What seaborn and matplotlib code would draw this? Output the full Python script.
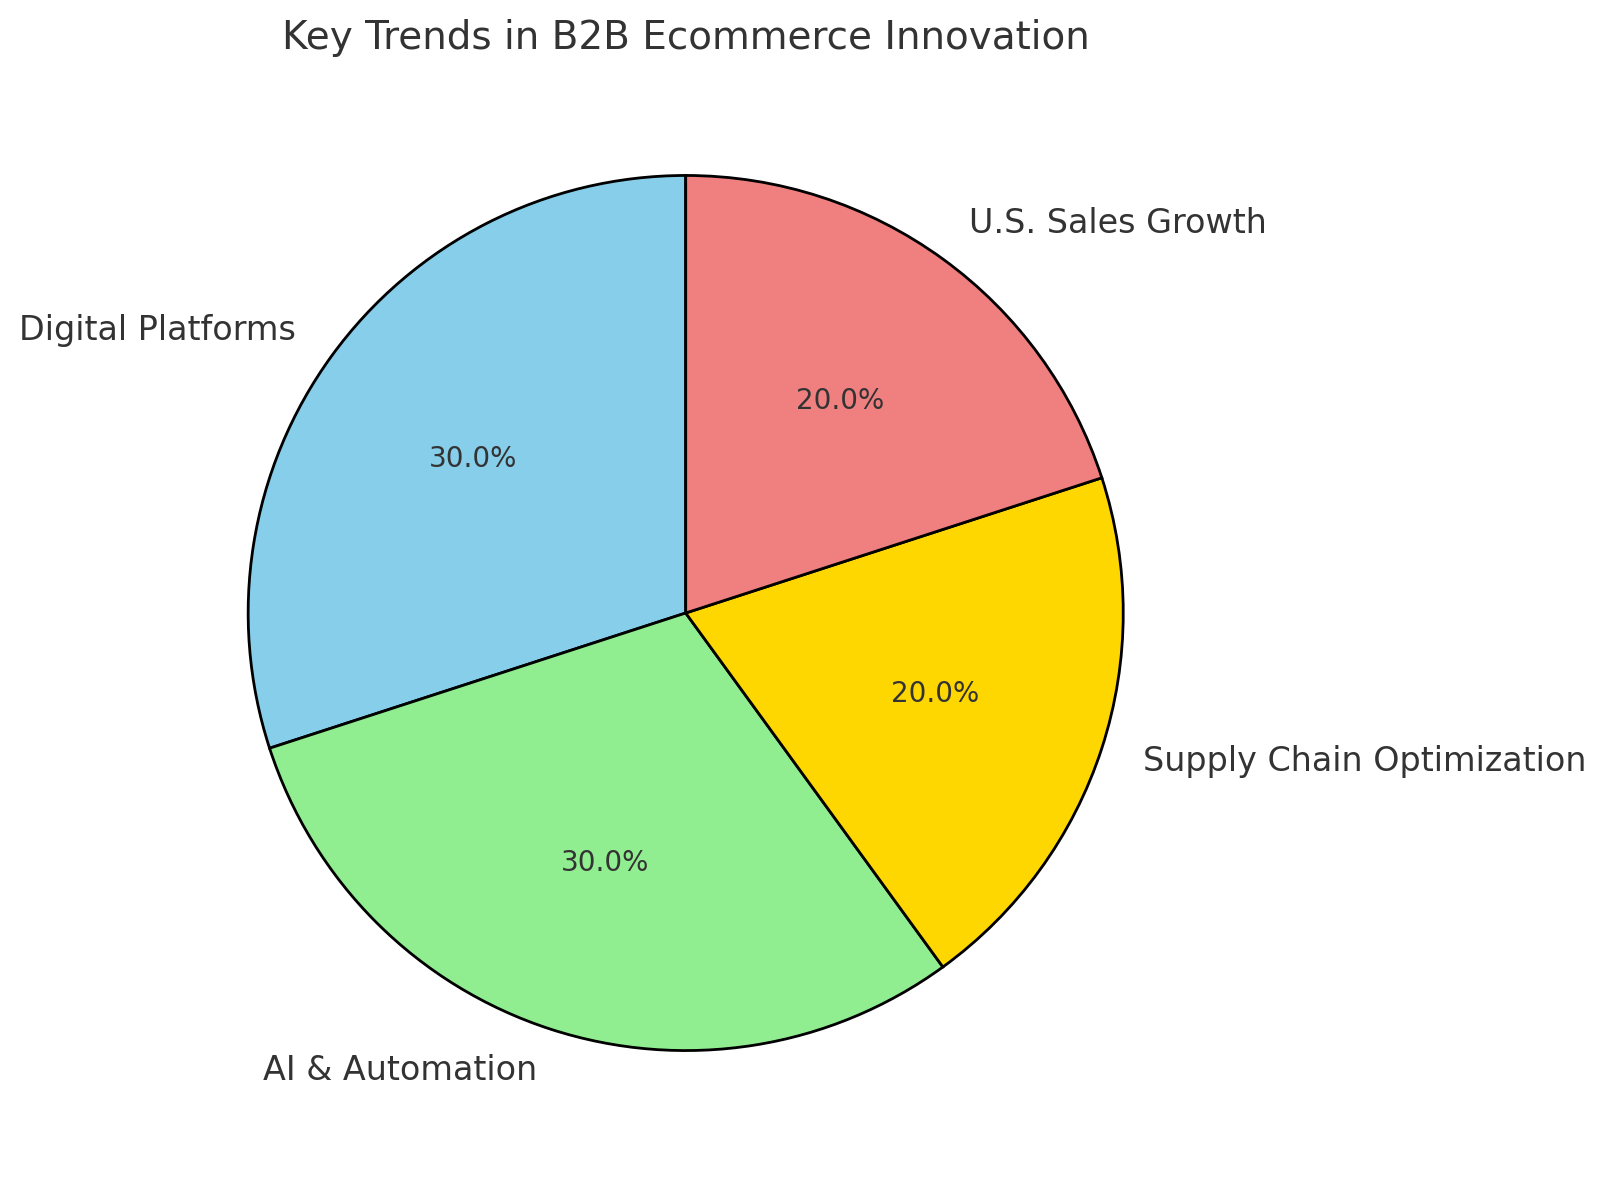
import matplotlib
matplotlib.use('Agg')
from matplotlib import pyplot as plt
import seaborn as sns

# Data
trends = ['Digital Platforms', 'AI & Automation', 'Supply Chain Optimization', 'U.S. Sales Growth']
shares = [30, 30, 20, 20]
colours = ['skyblue', 'lightgreen', 'gold', 'lightcoral']

sns.set_theme(style='white')
plt.rcParams['font.family'] = ['DejaVu Sans']
plt.rcParams['text.color'] = '#333333'

fig = plt.figure(figsize=(8.035, 5.9), dpi=200)
ax = fig.add_axes([0.0862, 0.017, 0.681, 0.927])

palette = sns.color_palette(colours)
wedges, texts, autotexts = ax.pie(
    shares, labels=trends, colors=palette, autopct='%1.1f%%', startangle=90,
    wedgeprops={'edgecolor': 'black', 'linewidth': 1.0},
    textprops={'fontsize': 12, 'color': '#333333'})
for t in autotexts:
    t.set_fontsize(10)
ax.set_aspect('equal')
ax.set_title('Key Trends in B2B Ecommerce Innovation', fontsize=14, color='#333333')

fig.savefig('out.png', dpi=200)
plt.close()
